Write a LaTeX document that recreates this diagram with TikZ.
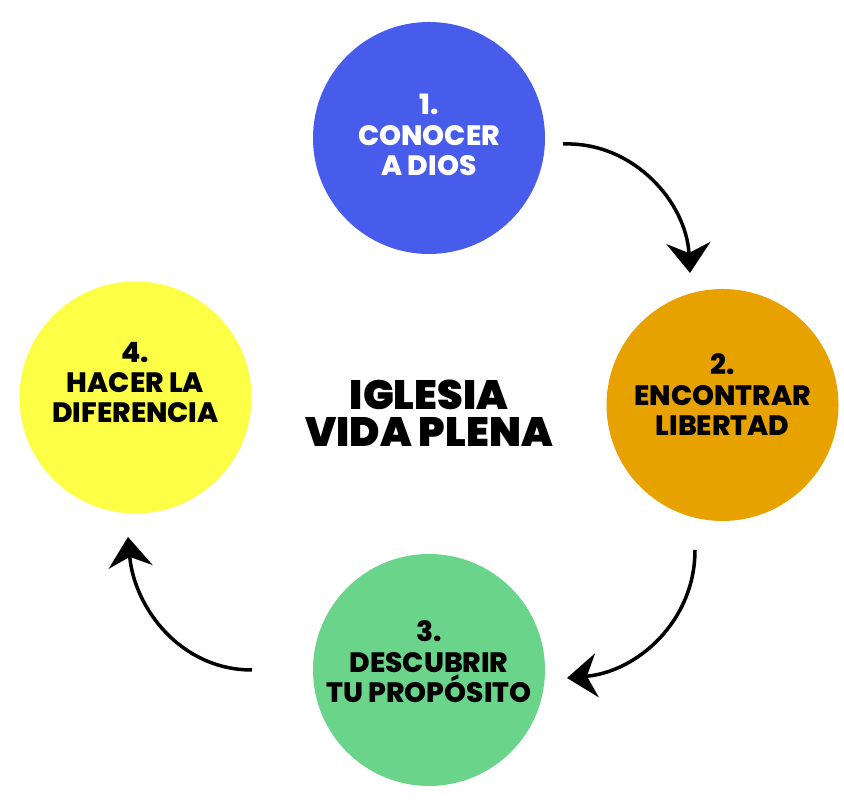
\documentclass[tikz,border=0pt]{standalone}
\usepackage{fontspec}
\setmainfont{Poppins}[BoldFont={Poppins ExtraBold}]
\newfontfamily\titlefont{Poppins Black}
\usetikzlibrary{arrows.meta}

\definecolor{stageblue}{RGB}{72,92,235}
\definecolor{stageorange}{RGB}{232,162,0}
\definecolor{stagegreen}{RGB}{107,212,139}
\definecolor{stageyellow}{RGB}{252,255,69}

\tikzset{
  stage/.style={circle, minimum size=232pt, inner sep=0pt},
  stagetext/.style={align=center, font=\fontsize{28}{30.5}\selectfont\bfseries},
  cyclearrow/.style={line width=3.5pt, -{Stealth[length=30pt, width=44pt, inset=10pt]}}
}

\begin{document}
\begin{tikzpicture}[x=1pt, y=1pt]
\useasboundingbox (0,0) rectangle (844,810);

% stages
\node[stage, fill=stageblue] (c1) at (429,672) {};
\node[stage, fill=stageorange] (c2) at (722.5,405) {};
\node[stage, fill=stagegreen] (c3) at (429,140) {};
\node[stage, fill=stageyellow] (c4) at (135.5,412.5) {};

\node[stagetext, white] (t1) at (c1.center) [yshift=3pt] {1.\\CONOCER\\A DIOS};
\node[stagetext] (t2) at (c2.center) [yshift=10pt] {2.\\ENCONTRAR\\LIBERTAD};
\node[stagetext] (t3) at (c3.center) [yshift=8pt] {3.\\DESCUBRIR\\TU PROPÓSITO};
\node[stagetext] (t4) at (c4.center) [yshift=15pt] {4.\\HACER LA\\DIFERENCIA};

% title
\node[align=center, font=\fontsize{41}{37}\selectfont\titlefont] (title) at (429,397) {IGLESIA\\VIDA PLENA};

% arrows
\coordinate (a1s) at (563,666);
\coordinate (a1e) at (690,537);
\coordinate (a2s) at (695,260);
\coordinate (a2e) at (567,132);
\coordinate (a3s) at (252,140);
\coordinate (a3e) at (128,273);

\draw[cyclearrow] (a1s) to[out=2, in=93] (a1e);
\draw[cyclearrow] (a2s) to[out=-90, in=5] (a2e);
\draw[cyclearrow] (a3s) to[out=180, in=-85] (a3e);

\end{tikzpicture}
\end{document}
